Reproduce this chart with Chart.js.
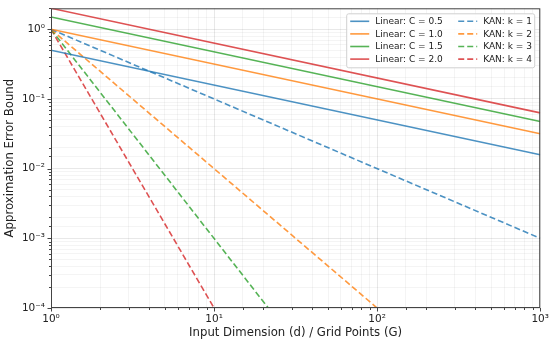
<!DOCTYPE html>
<html>
<head>
<meta charset="utf-8">
<script src="https://cdn.jsdelivr.net/npm/chart.js@4.4.0/dist/chart.umd.min.js"></script>
<style>
  html, body { margin: 0; padding: 0; background: #fff; }
  #wrap { width: 550px; height: 342px; }
</style>
</head>
<body>
<div id="wrap"><canvas id="myChart"></canvas></div>
<script>
// Values (log-log, straight lines -> endpoints)
const linearLabels = ['Linear: C = 0.5', 'Linear: C = 1.0', 'Linear: C = 1.5', 'Linear: C = 2.0'];
const linearX = [1, 1000];
const linearY = [
    [0.5, 0.0158],
    [1.0, 0.0316],
    [1.5, 0.0474],
    [2.0, 0.0632]
];
const kanLabels = ['KAN: k = 1', 'KAN: k = 2', 'KAN: k = 3', 'KAN: k = 4'];
const kanX = [
    [1, 1000],
    [1, 100],
    [1, 21.5],
    [1, 10]
];
const kanY = [
    [1, 0.001],
    [1, 0.0001],
    [1, 0.0001],
    [1, 0.0001]
];
const xRange = [1, 1000];
const yRange = [0.0001, 2];

const colors = [
    'rgba(31, 119, 180, 0.8)',
    'rgba(255, 127, 14, 0.8)',
    'rgba(44, 160, 44, 0.8)',
    'rgba(214, 39, 40, 0.8)'
];
const FONT = '"DejaVu Sans", sans-serif';
const SUP = { '0': '⁰', '1': '¹', '2': '²', '3': '³', '4': '⁴', '-': '⁻' };

function isMajor(v) {
    const l = Math.log10(v);
    return Math.abs(l - Math.round(l)) < 1e-9;
}
function powLabel(v) {
    if (!isMajor(v)) return '';
    const e = String(Math.round(Math.log10(v)));
    return '10' + e.split('').map(c => SUP[c]).join('');
}

const datasets = [];
linearY.forEach((ys, i) => {
    datasets.push({
        label: linearLabels[i],
        data: linearX.map((x, j) => ({ x: x, y: ys[j] })),
        borderColor: colors[i],
        borderWidth: 1.6,
        pointRadius: 0,
        fill: false
    });
});
kanY.forEach((ys, i) => {
    datasets.push({
        label: kanLabels[i],
        data: kanX[i].map((x, j) => ({ x: x, y: ys[j] })),
        borderColor: colors[i],
        borderWidth: 1.6,
        borderDash: [6, 3],
        pointRadius: 0,
        fill: false
    });
});

// frame, tick marks and boxed two-column legend
const decorPlugin = {
    id: 'decor',
    afterDatasetsDraw(chart) {
        const ctx = chart.ctx;
        const a = chart.chartArea;
        ctx.save();
        ctx.strokeStyle = '#444';
        ctx.lineWidth = 1;
        ctx.strokeRect(a.left + 0.5, a.top + 0.5, a.right - a.left - 1, a.bottom - a.top - 1);

        // tick marks
        ctx.beginPath();
        chart.scales.x.ticks.forEach(t => {
            const px = Math.round(chart.scales.x.getPixelForValue(t.value)) + 0.5;
            const len = isMajor(t.value) ? 3.5 : 2;
            ctx.moveTo(px, a.bottom);
            ctx.lineTo(px, a.bottom + len);
        });
        chart.scales.y.ticks.forEach(t => {
            if (t.value > yRange[1]) return;
            const py = Math.round(chart.scales.y.getPixelForValue(t.value)) + 0.5;
            const len = isMajor(t.value) ? 3.5 : 2;
            ctx.moveTo(a.left, py);
            ctx.lineTo(a.left - len, py);
        });
        ctx.stroke();

        // legend
        const bw = 188, bh = 54;
        const bx = a.right - 6 - bw, by = a.top + 5;
        ctx.beginPath();
        ctx.roundRect(bx + 0.5, by + 0.5, bw, bh, 2);
        ctx.fillStyle = 'rgba(255,255,255,0.85)';
        ctx.fill();
        ctx.strokeStyle = '#d0d0d0';
        ctx.stroke();

        ctx.font = '9px ' + FONT;
        ctx.textBaseline = 'middle';
        ctx.fillStyle = '#222';
        ctx.lineWidth = 1.6;
        const cols = [
            { lx: bx + 4, labels: linearLabels, dash: [] },
            { lx: bx + 112, labels: kanLabels, dash: [6, 3] }
        ];
        cols.forEach(col => {
            col.labels.forEach((lab, i) => {
                const y = by + 8 + i * 12.6;
                ctx.strokeStyle = colors[i];
                ctx.setLineDash(col.dash);
                ctx.beginPath();
                ctx.moveTo(col.lx, y);
                ctx.lineTo(col.lx + 19, y);
                ctx.stroke();
                ctx.setLineDash([]);
                ctx.fillText(lab, col.lx + 25, y + 0.5);
            });
        });
        ctx.restore();
    }
};

const gridColor = ctx => isMajor(ctx.tick ? ctx.tick.value : 1) ? 'rgba(0,0,0,0.09)' : 'rgba(0,0,0,0.045)';

const myChart = new Chart(document.getElementById('myChart'), {
    type: 'line',
    data: { datasets: datasets },
    plugins: [decorPlugin],
    options: {
        responsive: true,
        maintainAspectRatio: false,
        animation: false,
        layout: { padding: { top: 8, right: 9, left: 3, bottom: 2 } },
        plugins: {
            legend: { display: false },
            tooltip: { enabled: false }
        },
        scales: {
            x: {
                type: 'logarithmic',
                min: xRange[0],
                max: xRange[1],
                afterFit: s => { s.height = 32; },
                border: { display: false },
                grid: {
                    color: gridColor,
                    borderDash: [3, 2],
                    drawTicks: true,
                    tickLength: 4,
                    tickColor: 'transparent'
                },
                ticks: {
                    autoSkip: false,
                    maxRotation: 0,
                    padding: 1,
                    color: '#222',
                    font: { family: FONT, size: 10.5 },
                    callback: v => powLabel(v)
                },
                title: {
                    display: true,
                    text: 'Input Dimension (d) / Grid Points (G)',
                    color: '#222',
                    font: { family: FONT, size: 11.7 },
                    padding: { top: 0, bottom: 0 }
                }
            },
            y: {
                type: 'logarithmic',
                min: yRange[0],
                max: yRange[1],
                afterFit: s => { s.width = 48; },
                border: { display: false },
                grid: {
                    color: gridColor,
                    borderDash: [3, 2],
                    drawTicks: true,
                    tickLength: 4,
                    tickColor: 'transparent'
                },
                ticks: {
                    autoSkip: false,
                    padding: 2,
                    color: '#222',
                    font: { family: FONT, size: 10.5 },
                    callback: v => powLabel(v)
                },
                title: {
                    display: true,
                    text: 'Approximation Error Bound',
                    color: '#222',
                    font: { family: FONT, size: 11.7 },
                    padding: { top: 0, bottom: 1 }
                }
            }
        }
    }
});
</script>
</body>
</html>
